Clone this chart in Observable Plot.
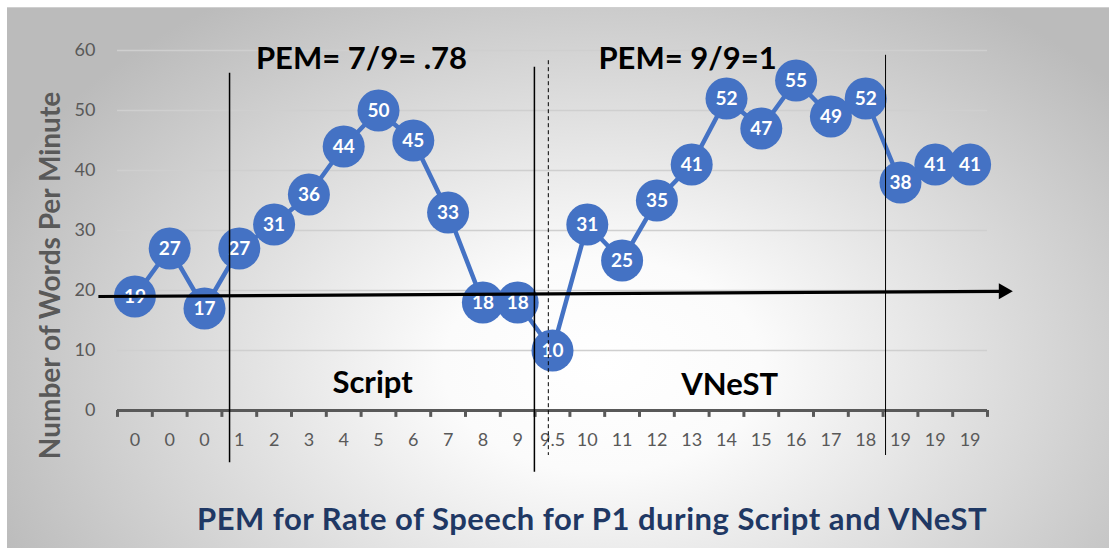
<!DOCTYPE html>
<html>
<head>
<meta charset="utf-8">
<script src="https://cdn.jsdelivr.net/npm/d3@7"></script>
<script src="https://cdn.jsdelivr.net/npm/@observablehq/plot@0.6"></script>
<style>
  html, body { margin: 0; padding: 0; background: #ffffff; }
  #page { position: relative; width: 1109px; height: 548px; overflow: hidden; font-family: Lato, "Open Sans", sans-serif; }
  #bg { position: absolute; left: 7px; top: 7px; width: 1102px; height: 541px;
        border-top: 1px solid #cfcfcf;
        background: radial-gradient(ellipse 60% 82% at 54% 66%, #ffffff 0%, #fbfbfb 24%, #bbbbbb 100%); }
  #chart { position: absolute; left: 0; top: 0; }
  #title { position: absolute; left: 197px; top: 500px; white-space: nowrap;
           font-family: Lato, sans-serif; font-weight: 700; font-size: 31px; line-height: 36px;
           letter-spacing: 0.5px; color: #1f3864; }
</style>
</head>
<body>
<div id="page">
  <div id="bg"></div>
  <div id="chart"></div>
  <div id="title">PEM for Rate of Speech for P1 during Script and VNeST</div>
</div>
<script>
// ---- data ----
const sessionLabels = ["0","0","0","1","2","3","4","5","6","7","8","9","9.5","10","11","12","13","14","15","16","17","18","19","19","19"];
const wordsPerMinute = [19,27,17,27,31,36,44,50,45,33,18,18,10,31,25,35,41,52,47,55,49,52,38,41,41];
const yTicks = [0,10,20,30,40,50,60];
const annotationTexts = ["PEM= 7/9= .78", "PEM= 9/9=1", "Script", "VNeST"];
const yAxisTitle = "Number of Words Per Minute";

const points = wordsPerMinute.map((v, i) => ({i, v, label: sessionLabels[i]}));
const indices = d3.range(sessionLabels.length);
const boundaries = d3.range(sessionLabels.length + 1).map(k => k - 0.5);

// annotation placement (data coordinates)
const phaseLines = [
  {x: 2.72, y1: 56.2, y2: -8.7, w: 1.5},
  {x: 11.48, y1: 57.2, y2: -10.3, w: 1.5},
  {x: 21.57, y1: 59.2, y2: -7.5, w: 1}
];
const dashLine = [{x: 11.88, y1: 58.3, y2: -7.5}];
const annots = [
  {x: 6.51, y: 57, t: annotationTexts[0]},
  {x: 15.88, y: 57, t: annotationTexts[1]},
  {x: 6.83, y: 2.85, t: annotationTexts[2]},
  {x: 17.09, y: 2.55, t: annotationTexts[3]}
];
const trendArrow = [{x1: -1.05, y1: 19.0, x2: 24.86, y2: 19.86}];
const trendHead = [{x: 24.96, y: 19.87}];

const blue = "#4472c4";
const gray = "#595959";

const chart = Plot.plot({
  width: 1109,
  height: 490,
  marginLeft: 117,
  marginRight: 122,
  marginTop: 50,
  marginBottom: 80,
  style: {background: "transparent", fontFamily: "Lato, sans-serif", overflow: "visible"},
  x: {type: "linear", domain: [-0.5, 24.5]},
  y: {type: "linear", domain: [0, 60]},
  marks: [
    Plot.ruleY(yTicks.filter(d => d > 0), {stroke: "#cfcfcf", strokeWidth: 1.3}),
    Plot.axisY({ticks: yTicks, tickSize: 0, tickPadding: 22, fontSize: 18, fill: gray, label: null}),
    Plot.axisX({ticks: indices, tickFormat: i => sessionLabels[i], tickSize: 0, tickPadding: 23, fontSize: 18, fill: gray, label: null}),
    Plot.ruleY([0], {stroke: gray, strokeWidth: 3}),
    Plot.ruleX(boundaries, {y1: 0, y2: -1.15, stroke: gray, strokeWidth: 3}),
    Plot.line(points, {x: "i", y: "v", stroke: blue, strokeWidth: 4.5}),
    Plot.dot(points, {x: "i", y: "v", r: 21, fill: blue}),
    Plot.text(points, {x: "i", y: "v", text: d => String(d.v), fill: "white", fontSize: 19, fontWeight: "bold"}),
    Plot.ruleX(phaseLines, {x: "x", y1: "y1", y2: "y2", stroke: "black", strokeWidth: "w"}),
    Plot.ruleX(dashLine, {x: "x", y1: "y1", y2: "y2", stroke: "black", strokeWidth: 1, strokeDasharray: "4,3"}),
    Plot.link(trendArrow, {x1: "x1", y1: "y1", x2: "x2", y2: "y2", stroke: "black", strokeWidth: 3.2}),
    Plot.dot(trendHead, {x: "x", y: "y", symbol: "triangle", r: 6, fill: "black", rotate: 90}),
    Plot.text(annots, {x: "x", y: "y", text: "t", fontSize: 31, fontWeight: "bold", fill: "black", lineAnchor: "bottom"}),
    Plot.text([yAxisTitle], {frameAnchor: "left", text: d => d, rotate: -90, dx: -66, dy: 45, fontSize: 28, fontWeight: "bold", fill: gray, textAnchor: "middle", lineAnchor: "middle"})
  ]
});
document.getElementById("chart").appendChild(chart);
</script>
</body>
</html>
